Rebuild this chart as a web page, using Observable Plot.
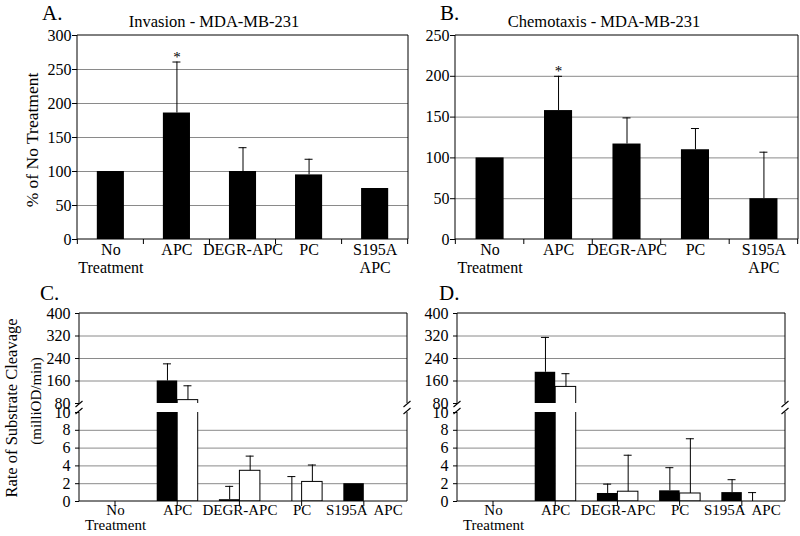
<!DOCTYPE html>
<html><head><meta charset="utf-8">
<script src="https://cdn.jsdelivr.net/npm/d3@7"></script>
<script src="https://cdn.jsdelivr.net/npm/@observablehq/plot@0.6"></script>
<style>
html,body{margin:0;padding:0;background:#fff;}
#fig{position:relative;width:800px;height:536px;overflow:hidden;font-family:"Liberation Serif","Times New Roman",serif;color:#000;background:#fff;}
.abs{position:absolute;white-space:nowrap;line-height:1;}
.letter{font-size:21px;}
.title{font-size:16.5px;transform:translateX(-50%);}
.ylab{transform:translate(-50%,-50%) rotate(-90deg);}
</style></head><body><div id="fig"></div>
<script>
// ---------- data ----------
const categories = ["No Treatment", "APC", "DEGR-APC", "PC", "S195A APC"];
const tickLabelsTop = ["No\nTreatment", "APC", "DEGR-APC", "PC", "S195A\nAPC"];
const tickLabelsBottom = ["No\nTreatment", "APC", "DEGR-APC", "PC", "S195A  APC"];
const starred = ["APC"];

const invasionMean = [100, 186, 100, 95, 75];
const invasionErr = [null, 75, 35, 23, null];
const chemotaxisMean = [100, 158, 117, 110, 50];
const chemotaxisErr = [null, 42, 32, 26, 57];

const cBlack = [0, 160, 0.2, 0, 2.0];
const cBlackErr = [null, 61, 1.5, 2.8, null];
const cWhite = [0, 92, 3.45, 2.2, 0];
const cWhiteErr = [null, 51, 1.65, 1.9, null];
const dBlack = [0, 191, 0.9, 1.2, 1.0];
const dBlackErr = [null, 124, 1.05, 2.6, 1.45];
const dWhite = [0, 139, 1.1, 0.9, 0];
const dWhiteErr = [null, 47, 4.1, 6.15, 1.0];

const ticksA = [0, 50, 100, 150, 200, 250, 300];
const gridA = [50, 100, 150, 200, 250];
const ticksB = [0, 50, 100, 150, 200, 250];
const gridB = [50, 100, 150, 200];
const ticksUpper = [80, 160, 240, 320, 400];
const gridUpper = [160, 240, 320];
const ticksLower = [0, 2, 4, 6, 8, 10];
const gridLower = [2, 4, 6, 8];

// ---------- helpers ----------
const fig = document.getElementById("fig");
const baseStyle = {background: "transparent", fontFamily: "'Liberation Serif','Times New Roman',serif", fontSize: "16px", overflow: "visible"};
const GRID = "#8a8a8a";

function place(el, left, top) {
  el.style.position = "absolute";
  el.style.left = left + "px";
  el.style.top = top + "px";
  fig.appendChild(el);
}
function html(cls, text, left, top) {
  const d = document.createElement("div");
  d.className = "abs " + cls;
  d.textContent = text;
  d.style.left = left + "px";
  d.style.top = top + "px";
  fig.appendChild(d);
  return d;
}
function frameLines(sides) {
  return (index, scales, values, dims) => {
    const {width, height, marginTop, marginRight, marginBottom, marginLeft} = dims;
    const x0 = marginLeft, x1 = width - marginRight, y0 = marginTop, y1 = height - marginBottom;
    const g = d3.create("svg:g").attr("stroke", "black").attr("fill", "none");
    const seg = (a, b, c, d) => g.append("line").attr("x1", a).attr("y1", b).attr("x2", c).attr("y2", d);
    if (sides.includes("top")) seg(x0, y0, x1, y0);
    if (sides.includes("bottom")) seg(x0, y1, x1, y1);
    if (sides.includes("left")) seg(x0, y0, x0, y1);
    if (sides.includes("right")) seg(x1, y0, x1, y1);
    return g.node();
  };
}
function breakMarks(edge) {
  return (index, scales, values, dims) => {
    const {width, height, marginTop, marginRight, marginBottom, marginLeft} = dims;
    const y = edge === "bottom" ? height - marginBottom + 1 : marginTop - 1;
    const g = d3.create("svg:g").attr("stroke", "black").attr("fill", "none").attr("stroke-width", 1.1);
    for (const x of [marginLeft, width - marginRight]) {
      g.append("line").attr("x1", x - 3.5).attr("y1", y + 3).attr("x2", x + 3.5).attr("y2", y - 3);
    }
    return g.node();
  };
}
function boundaryTicks(len) {
  return (index, scales, values, dims) => {
    const x = scales.x;
    const dom = x.domain();
    const step = x.step();
    const y = dims.height - dims.marginBottom;
    const c0 = x(dom[0]) + x.bandwidth() / 2 - step / 2;
    const g = d3.create("svg:g").attr("stroke", "black");
    for (let i = 0; i <= dom.length; i++) {
      const xx = c0 + i * step;
      g.append("line").attr("x1", xx).attr("x2", xx).attr("y1", y).attr("y2", y + len);
    }
    return g.node();
  };
}
function centerTicks(len) {
  return (index, scales, values, dims) => {
    const x = scales.x;
    const y = dims.height - dims.marginBottom;
    const g = d3.create("svg:g").attr("stroke", "black");
    for (const c of x.domain()) {
      const xx = x(c) + x.bandwidth() / 2;
      g.append("line").attr("x1", xx).attr("x2", xx).attr("y1", y).attr("y2", y + len);
    }
    return g.node();
  };
}

// ---------- top panels (A, B) ----------
function panelTop({mean, err, yDomain, yTicks, grid, width, marginLeft, left}) {
  const rows = categories.map((c, i) => ({category: c, label: tickLabelsTop[i], mean: mean[i], err: err[i], star: starred.includes(c)}));
  const withErr = rows.filter(d => d.err != null);
  const pi = 0.59, po = 0.30, marginRight = 2;
  const step = (width - marginLeft - marginRight) / (categories.length - pi + 2 * po);
  const bw = step * (1 - pi);
  const cap = 8;
  const svg = Plot.plot({
    width, height: 280, marginTop: 35, marginRight, marginBottom: 41, marginLeft,
    style: baseStyle,
    x: {type: "band", domain: categories, paddingInner: pi, paddingOuter: po, align: 0.5, round: false, axis: null},
    y: {domain: yDomain, ticks: yTicks, tickSize: 5, tickPadding: 1, label: null},
    marks: [
      Plot.ruleY(grid, {stroke: GRID}),
      Plot.barY(rows, {x: "category", y: "mean", fill: "black"}),
      Plot.ruleX(withErr, {x: "category", y1: "mean", y2: d => d.mean + d.err, stroke: "black"}),
      Plot.tickY(withErr, {x: "category", y: d => d.mean + d.err, insetLeft: (bw - cap) / 2, insetRight: (bw - cap) / 2, stroke: "black"}),
      Plot.text(rows.filter(d => d.star), {x: "category", y: d => d.mean + d.err, text: () => "*", dy: -5, fontSize: 15}),
      Plot.text(rows, {x: "category", text: "label", frameAnchor: "bottom", lineAnchor: "top", dy: 2, lineHeight: 1.15}),
      frameLines(["top", "right", "bottom", "left"]),
      boundaryTicks(5)
    ]
  });
  place(svg, left, 0);
}

panelTop({mean: invasionMean, err: invasionErr, yDomain: [0, 300], yTicks: ticksA, grid: gridA, width: 410, marginLeft: 77, left: 0});
panelTop({mean: chemotaxisMean, err: chemotaxisErr, yDomain: [0, 250], yTicks: ticksB, grid: gridB, width: 400, marginLeft: 55, left: 400});

// ---------- bottom panels (C, D), broken y axis ----------
function panelBottom({black, blackErr, white, whiteErr, width, marginLeft, marginRight, left}) {
  const rows = categories.map((c, i) => ({category: c, label: tickLabelsBottom[i], black: black[i], blackErr: blackErr[i], white: white[i], whiteErr: whiteErr[i]}));
  const bRows = rows.filter(d => d.blackErr != null);
  const wRows = rows.filter(d => d.whiteErr != null);
  const pi = 0.341, po = 0.307, align = 0.406;
  const step = (width - marginLeft - marginRight) / (categories.length - pi + 2 * po);
  const bw = step * (1 - pi);
  const half = bw / 2, cap = 8;
  const x = {type: "band", domain: categories, paddingInner: pi, paddingOuter: po, align, round: false, axis: null};
  const dataMarks = [
    Plot.barY(rows, {x: "category", y: "black", fill: "black", insetRight: half, clip: true}),
    Plot.barY(rows, {x: "category", y: "white", fill: "white", stroke: "black", insetLeft: half, clip: true}),
    Plot.ruleX(bRows, {x: "category", y1: "black", y2: d => d.black + d.blackErr, dx: -half / 2, stroke: "black", clip: true}),
    Plot.tickY(bRows, {x: "category", y: d => d.black + d.blackErr, insetLeft: half / 2 - cap / 2, insetRight: half + half / 2 - cap / 2, stroke: "black", clip: true}),
    Plot.ruleX(wRows, {x: "category", y1: "white", y2: d => d.white + d.whiteErr, dx: half / 2, stroke: "black", clip: true}),
    Plot.tickY(wRows, {x: "category", y: d => d.white + d.whiteErr, insetLeft: half + half / 2 - cap / 2, insetRight: half / 2 - cap / 2, stroke: "black", clip: true})
  ];
  const upper = Plot.plot({
    width, height: 125, marginTop: 23, marginRight, marginBottom: 12, marginLeft,
    style: baseStyle, x,
    y: {domain: [80, 400], ticks: ticksUpper, tickSize: 4, tickPadding: 5, label: null},
    marks: [
      Plot.ruleY(gridUpper, {stroke: GRID}),
      ...dataMarks,
      frameLines(["top", "left", "right"]),
      breakMarks("bottom")
    ]
  });
  const lower = Plot.plot({
    width, height: 136, marginTop: 12, marginRight, marginBottom: 35, marginLeft,
    style: baseStyle, x,
    y: {domain: [0, 10], ticks: ticksLower, tickSize: 4, tickPadding: 5, label: null},
    marks: [
      Plot.ruleY(gridLower, {stroke: GRID}),
      ...dataMarks,
      Plot.text(rows, {x: "category", text: "label", frameAnchor: "bottom", lineAnchor: "top", dy: 3, lineHeight: 1.0, fontSize: 15}),
      frameLines(["bottom", "left", "right"]),
      breakMarks("top"),
      centerTicks(5)
    ]
  });
  place(upper, left, 290);
  place(lower, left, 400);
}

panelBottom({black: cBlack, blackErr: cBlackErr, white: cWhite, whiteErr: cWhiteErr, width: 410, marginLeft: 79, marginRight: 3, left: 0});
panelBottom({black: dBlack, blackErr: dBlackErr, white: dWhite, whiteErr: dWhiteErr, width: 400, marginLeft: 57, marginRight: 15, left: 400});

// ---------- text ----------
html("letter", "A.", 42, 2.5);
html("letter", "B.", 440, 2.5);
html("letter", "C.", 40, 282.5);
html("letter", "D.", 439, 282.5);
html("title", "Invasion - MDA-MB-231", 214, 14);
html("title", "Chemotaxis - MDA-MB-231", 604, 14);
const ya = html("ylab", "% of No Treatment", 33, 140); ya.style.fontSize = "17.5px";
const yc1 = html("ylab", "Rate of Substrate Cleavage", 12, 408); yc1.style.fontSize = "16.5px";
const yc2 = html("ylab", "(milliOD/min)", 36, 401); yc2.style.fontSize = "15px";
</script></body></html>
